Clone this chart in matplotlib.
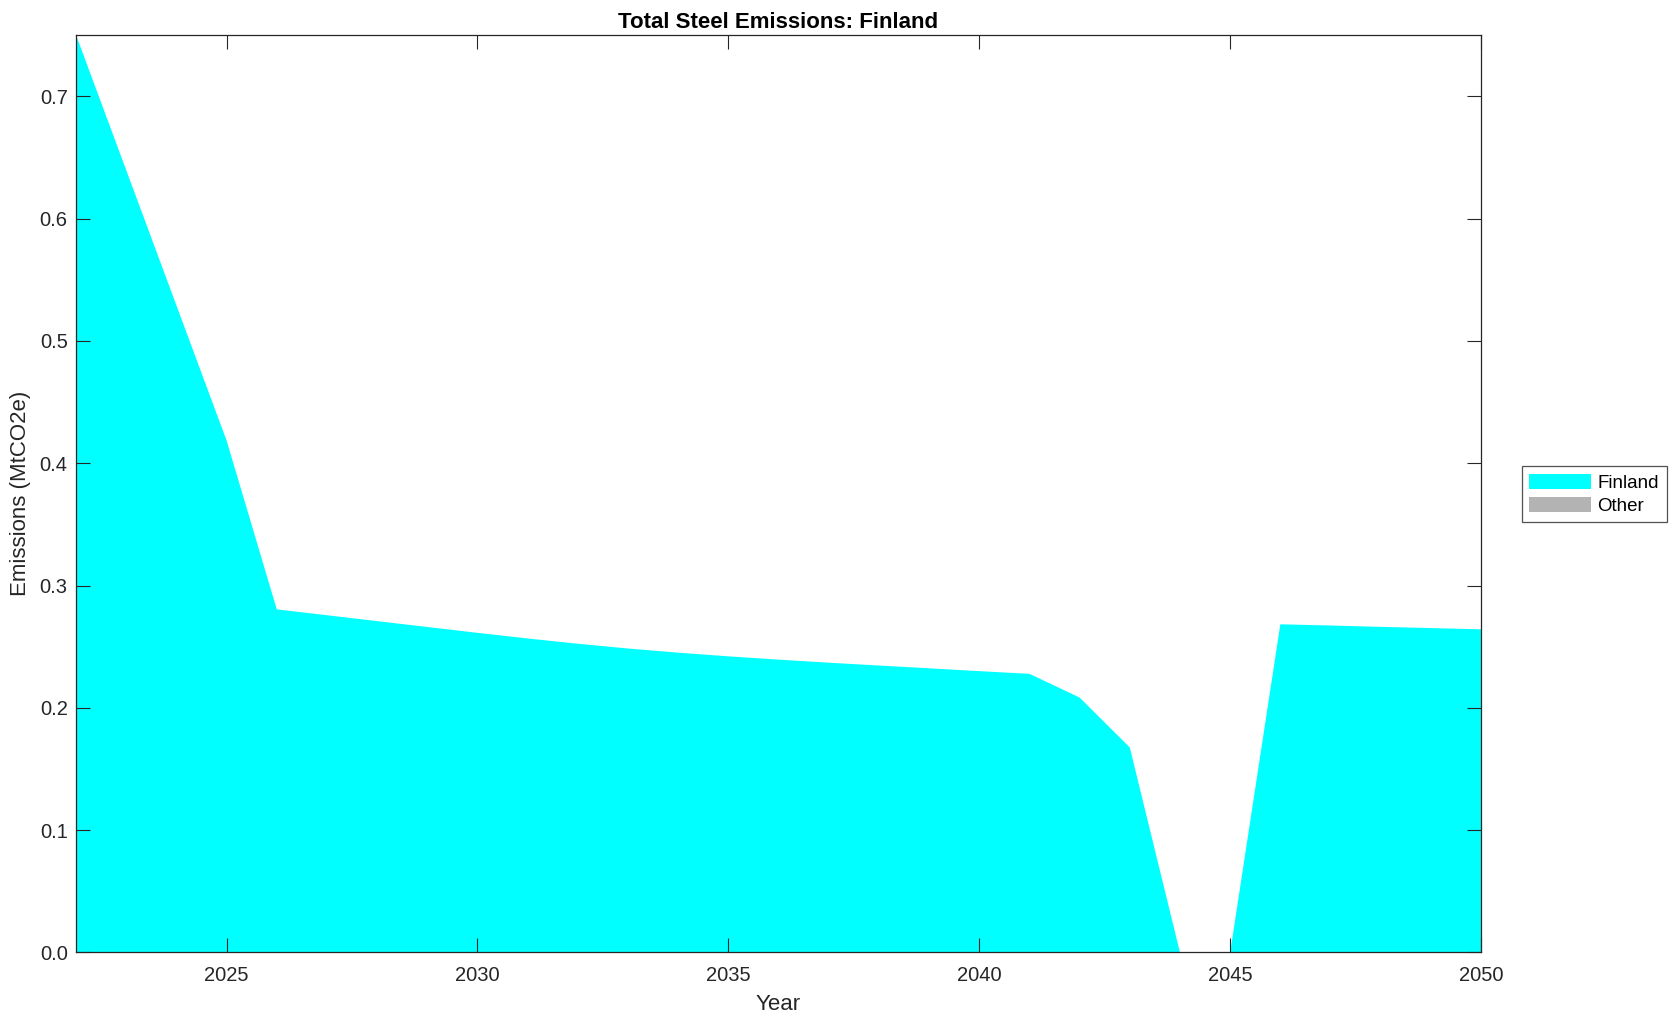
import matplotlib
matplotlib.use("Agg")
import matplotlib.pyplot as plt
from matplotlib.patches import Patch
import numpy as np

years = list(range(2022, 2051))
finland = [0.750, 0.6395, 0.529, 0.4185, 0.2805, 0.2757, 0.2709, 0.2661, 0.2613,
           0.2567, 0.2524, 0.2485, 0.2451, 0.2421, 0.2394, 0.2369, 0.2346, 0.2323,
           0.2300, 0.2278, 0.2084, 0.1676, 0.0, 0.0, 0.2683, 0.2673, 0.2662,
           0.2652, 0.2642]
other = [0.0] * len(years)
series_names = ["Finland", "Other"]
series_colors = ["#00ffff", "#b3b3b3"]

plt.rcParams['font.family'] = ['Liberation Sans', 'DejaVu Sans']
dark = '#262626'

fig = plt.figure(figsize=(16.79, 10.21), dpi=100)
ax = fig.add_axes([0.0453, 0.0671, 0.8368, 0.8986])

ax.stackplot(years, finland, other, colors=series_colors, linewidth=0)

ax.set_xlim(2022, 2050)
ax.set_ylim(0, max(finland))
ax.set_xticks(np.arange(2025, 2051, 5))
ax.set_yticks(np.arange(0, 0.71, 0.1))
ax.set_yticklabels([f"{v:.1f}" for v in np.arange(0, 0.71, 0.1)])
ax.tick_params(direction='in', length=10, width=0.8, colors=dark, labelsize=14.5,
               top=True, right=True, labelcolor=dark)
ax.tick_params(axis='x', pad=10)
ax.tick_params(axis='y', pad=6)
for s in ax.spines.values():
    s.set_color(dark)
    s.set_linewidth(0.9)

ax.set_title("Total Steel Emissions: Finland", fontsize=16, fontweight='bold', color='black', pad=5)
ax.set_xlabel("Year", fontsize=16, color=dark, labelpad=6)
ax.set_ylabel("Emissions (MtCO2e)", fontsize=16, color=dark, labelpad=6)

handles = [Patch(facecolor=c, edgecolor='none', label=n) for n, c in zip(series_names, series_colors)]
leg = fig.legend(handles=handles, loc='center left', bbox_to_anchor=(0.9063, 0.516),
                 fontsize=13.5, frameon=True, fancybox=False, edgecolor=dark,
                 handlelength=3.3, handleheight=0.9, handletextpad=0.35,
                 borderpad=0.4, labelspacing=0.25, borderaxespad=0)
leg.get_frame().set_linewidth(0.9)

fig.savefig("out.png", dpi=100)
